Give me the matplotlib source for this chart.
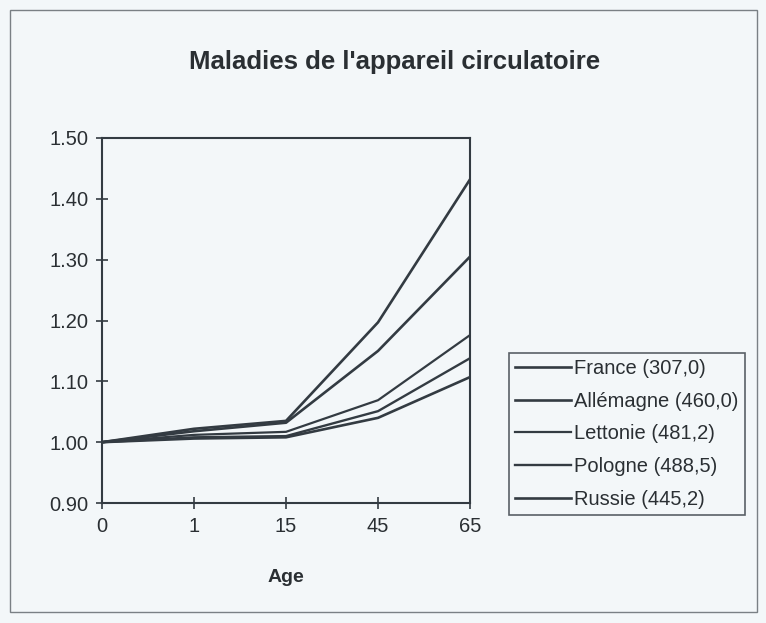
import matplotlib
matplotlib.use("Agg")
import matplotlib.pyplot as plt
from matplotlib.patches import Rectangle

plt.rcParams['font.family'] = ['Liberation Sans', 'DejaVu Sans']

ages = ["0", "1", "15", "45", "65"]
yticks = [0.90, 1.00, 1.10, 1.20, 1.30, 1.40, 1.50]
countries = ["France (307,0)", "Allémagne (460,0)", "Lettonie (481,2)",
             "Pologne (488,5)", "Russie (445,2)"]
france = [1.00, 1.022, 1.035, 1.197, 1.432]
allemagne = [1.00, 1.018, 1.032, 1.150, 1.305]
lettonie = [1.00, 1.012, 1.017, 1.069, 1.176]
pologne = [1.00, 1.008, 1.010, 1.051, 1.138]
russie = [1.00, 1.006, 1.008, 1.040, 1.107]
series = [france, allemagne, lettonie, pologne, russie]

bg = '#f3f7f9'
line_col = '#333b42'
txt_col = '#2a2f33'
widths = [1.9, 1.9, 1.6, 1.7, 1.9]

fig = plt.figure(figsize=(7.66, 6.23), dpi=100, facecolor=bg)
ax = fig.add_axes([0.1332, 0.1926, 0.4804, 0.5859])
ax.set_facecolor(bg)

xs = list(range(len(ages)))
for name, vals, lw in zip(countries, series, widths):
    ax.plot(xs, vals, color=line_col, lw=lw, label=name)

ax.set_xlim(0, len(ages) - 1)
ax.set_ylim(0.90, 1.50)
ax.set_xticks(xs)
ax.set_xticklabels(ages)
ax.set_yticks(yticks)
ax.set_yticklabels([f"{v:.2f}" for v in yticks])
ax.tick_params(axis='both', direction='inout', length=8, width=1.2,
               color=line_col, labelsize=14.5, labelcolor=txt_col, pad=6)
for s in ax.spines.values():
    s.set_color(line_col)
    s.set_linewidth(1.5)

ax.set_xlabel("Age", fontsize=14, fontweight='bold', color=txt_col, labelpad=24)
fig.text(0.515, 1 - 62 / 623, "Maladies de l'appareil circulatoire",
         ha='center', va='center', fontsize=18.5, fontweight='bold', color=txt_col)

leg = ax.legend(loc='upper left', bbox_to_anchor=(509 / 766, 1 - 353 / 623),
                bbox_transform=fig.transFigure, frameon=True, fancybox=False,
                fontsize=14.5, handlelength=2.8, handletextpad=0.15,
                labelspacing=0.68, borderpad=0.3, borderaxespad=0)
leg.get_frame().set_edgecolor(line_col)
leg.get_frame().set_linewidth(1.2)
leg.get_frame().set_facecolor(bg)
for t in leg.get_texts():
    t.set_color(txt_col)

fig.patches.append(Rectangle((10 / 766, 1 - 612 / 623), 747 / 766, 602 / 623,
                             transform=fig.transFigure, fill=False,
                             edgecolor='#7a8085', linewidth=1.0))

fig.savefig("out.png", dpi=100, facecolor=bg)
